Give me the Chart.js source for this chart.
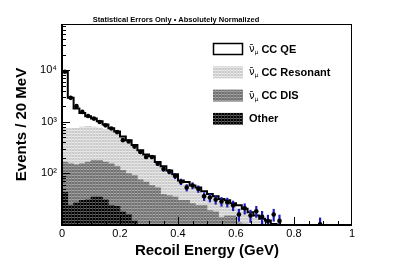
<!DOCTYPE html>
<html lang="en">
<head>
<meta charset="UTF-8">
<title>Recoil Energy</title>
<script src="https://cdn.jsdelivr.net/npm/chart.js@4"></script>
<style>
  html, body { margin: 0; padding: 0; background: #ffffff; }
  #wrap { width: 415px; height: 265px; }
</style>
</head>
<body>
<div id="wrap"><canvas id="recoilChart" width="415" height="265"></canvas></div>
<script>
// 50 bins of 20 MeV from 0 to 1 GeV
const binWidth = 0.02;
const binLow = Array.from({length: 50}, (_, i) => +(i * binWidth).toFixed(2));

// stacked MC components (events / bin), bottom to top
const otherMC = [43, 24, 27, 30, 31, 35, 35, 31, 24, 23, 18, 16, 12, 8, 6, 5, 5, 4, 4, 3,
                 3, 3, 2, 2, 2, 2, 2, 1, 1, 1, 1, 1, 1, 1, 1, 0.5, 0.5, 0.5, 0.5, 0.5,
                 0.4, 0.4, 0.4, 0.3, 0.2, 0.2, 0.2, 0.1, 0.1, 0.1];
const disMC = [122, 130, 120, 124, 134, 144, 144, 134, 130, 114, 96, 83, 79, 67, 62, 53, 48, 35, 33, 32,
               27, 27, 24, 22, 22, 17, 16, 13, 14, 14, 10, 9.5, 8, 7, 6, 5.5, 4.5, 4, 3.5, 2.5,
               2, 1.6, 1.4, 1.2, 1, 0.9, 0.8, 0.7, 0.6, 0.5];
const resMC = [575, 586, 598, 636, 650, 611, 581, 540, 501, 453, 371, 306, 229, 180, 137, 132, 97, 83, 65, 51,
               35, 30, 25, 23, 16, 16, 14, 14, 11, 8, 10, 7.5, 6.5, 5.5, 4.8, 4.8, 4.5, 3.5, 3, 2.2,
               2, 1.5, 1.3, 1.1, 1, 0.8, 0.7, 0.6, 0.5, 0.4];
const qeMC = [8560, 2160, 1055, 690, 465, 360, 260, 175, 95, 60, 35, 35, 35, 25, 26, 24, 16, 15, 12, 10,
              8, 8, 7, 6, 5, 5, 4, 4, 4, 3.5, 3, 2.6, 2.2, 1.8, 1.4, 1.4, 1, 1, 1, 0.8,
              0.6, 0.5, 0.4, 0.4, 0.3, 0.3, 0.2, 0.2, 0.2, 0.1];

// data with statistical errors (null = no entry)
const dataVals = [9300, 2900, 2000, 1550, 1290, 1150, 990, 850, 740, 630, 440, 415, 330, 260, 207, 207, 154, 121, 108, 89,
                  69, 53, 58, 50, 36, 34, 31, 28.6, 27.7, 24, 16, 21, 15.3, 18.5, 14.4, 11.9, 16, 12, null, null,
                  null, null, null, null, 10.3, null, null, null, null, null];
const dataErrs = [95, 55, 45, 40, 37, 35, 33, 31, 29, 27, 22, 21, 19, 17, 15, 15, 13, 11.5, 11, 10,
                  8.7, 7.6, 8, 7.4, 6.3, 6.1, 5.8, 5.6, 5.5, 5.1, 4.2, 4.8, 4.1, 4.5, 4, 3.6, 4.2, 3.6, null, null,
                  null, null, null, null, 3.4, null, null, null, null, null];

const xTickLabels = ['0', '0.2', '0.4', '0.6', '0.8', '1'];
const yTickLabels = {100: '10\u00b2', 1000: '10\u00b3', 10000: '10\u2074'};
const legendLabels = ['CC QE', 'CC Resonant', 'CC DIS', 'Other'];
const legendNuBar = [true, true, true, false];

Chart.defaults.font.family = "'Liberation Sans', Arial, sans-serif";
Chart.defaults.color = '#000';

// ROOT-like fill patterns
function makePattern(base, light, mid) {
    const c = document.createElement('canvas');
    c.width = 3; c.height = 3;
    const g = c.getContext('2d');
    g.fillStyle = base; g.fillRect(0, 0, 3, 3);
    g.fillStyle = mid; g.fillRect(2, 0, 1, 3);
    g.fillStyle = light; g.fillRect(0, 1, 2, 1);
    return g.createPattern(c, 'repeat');
}
const resFill = makePattern('#cbcbcb', '#ebebeb', '#dadada');
const disFill = makePattern('#727272', '#a6a6a6', '#888888');
const otherFill = makePattern('#000000', '#666666', '#363636');
const legendFills = ['#ffffff', resFill, disFill, otherFill];

const centers = binLow.map(v => v + binWidth / 2);
const asPoints = arr => arr.map((v, i) => ({x: centers[i], y: v}));
const totalMC = qeMC.map((v, i) => v + resMC[i] + disMC[i] + otherMC[i]);
const outline = [{x: 0, y: 1}]
    .concat(binLow.map((v, i) => ({x: v, y: totalMC[i]})))
    .concat([{x: 1, y: totalMC[totalMC.length - 1]}, {x: 1, y: 1}]);
const dataPts = [], errBars = [];
dataVals.forEach((v, i) => {
    if (v === null) return;
    dataPts.push({x: centers[i], y: v});
    errBars.push({x: centers[i], y: [v - dataErrs[i], v + dataErrs[i]]});
});

// inward ticks and frame, drawn over the fills
const rootAxes = {
    id: 'rootAxes',
    afterDatasetsDraw(chart) {
        const {ctx, chartArea: a, scales} = chart;
        const xs = scales.x, ys = scales.y;
        ctx.save();
        ctx.strokeStyle = '#000';
        ctx.lineWidth = 1;
        ctx.beginPath();
        ys.ticks.forEach(t => {
            const e = Math.floor(Math.log10(t.value) + 1e-9);
            const m = t.value / Math.pow(10, e);
            if (Math.abs(m - Math.round(m)) > 1e-6) return;
            const py = Math.round(ys.getPixelForValue(t.value)) + 0.5;
            if (py < a.top + 1 || py > a.bottom - 1) return;
            const len = Math.round(m) === 1 ? 8 : 4;
            ctx.moveTo(a.left, py); ctx.lineTo(a.left + len, py);
        });
        xs.ticks.forEach(t => {
            const px = Math.round(xs.getPixelForValue(t.value)) + 0.5;
            if (px < a.left + 1 || px > a.right - 1) return;
            const len = t.label ? 8 : 4;
            ctx.moveTo(px, a.bottom); ctx.lineTo(px, a.bottom - len);
        });
        ctx.stroke();
        ctx.strokeRect(a.left + 0.5, a.top + 0.5, a.width - 1, a.height - 1);
        ctx.lineWidth = 2;
        ctx.beginPath();
        ctx.moveTo(a.left, a.top); ctx.lineTo(a.left, a.bottom); ctx.lineTo(a.right, a.bottom);
        ctx.stroke();
        ctx.restore();
    }
};

// ROOT TLegend look-alike
const rootLegend = {
    id: 'rootLegend',
    afterDraw(chart) {
        const ctx = chart.ctx;
        ctx.save();
        legendLabels.forEach((label, i) => {
            const top = 43 + i * 23.3;
            ctx.fillStyle = legendFills[i];
            ctx.fillRect(213, top, 30, 12);
            if (i === 0) {
                ctx.strokeStyle = '#000';
                ctx.lineWidth = 1.5;
                ctx.strokeRect(213.5, top + 0.5, 29, 11);
            }
            const cy = top + 6.5;
            ctx.fillStyle = '#000';
            ctx.textBaseline = 'middle';
            ctx.textAlign = 'left';
            let x = 249;
            if (legendNuBar[i]) {
                ctx.font = "10px 'DejaVu Sans'";
                ctx.fillText('\u03bd\u0304', x, cy);
                x += ctx.measureText('\u03bd').width;
                ctx.font = "6px 'DejaVu Sans'";
                ctx.fillText('\u03bc', x, cy + 3);
                x += ctx.measureText('\u03bc').width + 3;
            }
            ctx.font = "bold 11px 'Liberation Sans'";
            ctx.fillText(label, x, cy);
        });
        ctx.restore();
    }
};

new Chart(document.getElementById('recoilChart'), {
    type: 'bar',
    data: {
        datasets: [
            {label: 'Other', data: asPoints(otherMC), backgroundColor: otherFill, borderWidth: 0},
            {label: 'CC DIS', data: asPoints(disMC), backgroundColor: disFill, borderWidth: 0},
            {label: 'CC Resonant', data: asPoints(resMC), backgroundColor: resFill, borderWidth: 0},
            {label: 'CC QE', data: asPoints(qeMC), backgroundColor: '#ffffff', borderWidth: 0},
            {type: 'line', label: 'MC total', data: outline, yAxisID: 'y2', order: -1,
             stepped: 'before', borderColor: '#000', borderWidth: 2, pointRadius: 0, fill: false},
            {type: 'bar', label: 'errors', data: errBars, yAxisID: 'y2', order: -2, grouped: false,
             maxBarThickness: 1.5, backgroundColor: '#1c1cc0', borderWidth: 0},
            {type: 'line', label: 'Data', data: dataPts, yAxisID: 'y2', order: -3, showLine: false,
             pointRadius: 2.3, pointBackgroundColor: '#000', pointBorderWidth: 0}
        ]
    },
    options: {
        responsive: false,
        animation: false,
        devicePixelRatio: 1,
        layout: {padding: {left: 0, right: 63, top: 0, bottom: 0}},
        datasets: {bar: {categoryPercentage: 1, barPercentage: 1}},
        plugins: {
            legend: {display: false},
            tooltip: {enabled: false},
            title: {
                display: true,
                text: 'Statistical Errors Only \u2022 Absolutely Normalized',
                color: '#000',
                font: {size: 7.5, weight: 'bold'},
                padding: {top: 15, bottom: 0}
            }
        },
        scales: {
            x: {
                type: 'linear', min: 0, max: 1, offset: false, stacked: true,
                grid: {display: false, drawTicks: false},
                border: {display: false},
                ticks: {
                    stepSize: 0.05, maxTicksLimit: 100, autoSkip: false, maxRotation: 0, padding: 2,
                    font: {size: 11},
                    callback: v => {
                        const k = Math.round(v / 0.2);
                        return Math.abs(v - k * 0.2) < 1e-6 ? xTickLabels[k] : '';
                    }
                },
                title: {display: true, text: 'Recoil Energy (GeV)', font: {size: 15, weight: 'bold'},
                        padding: {top: 0, bottom: 5}},
                afterFit: s => { s.height = 40; }
            },
            y: {
                type: 'logarithmic', min: 10, max: 78000, stacked: true,
                grid: {display: false, drawTicks: false},
                border: {display: false},
                ticks: {autoSkip: false, padding: 5, font: {size: 11},
                        callback: v => yTickLabels[v] || ''},
                title: {display: true, text: 'Events / 20 MeV', font: {size: 15, weight: 'bold'},
                        padding: {top: 13, bottom: 0}},
                afterFit: s => { s.width = 62; }
            },
            y2: {type: 'logarithmic', min: 10, max: 78000, display: false}
        }
    },
    plugins: [rootAxes, rootLegend]
});
</script>
</body>
</html>
